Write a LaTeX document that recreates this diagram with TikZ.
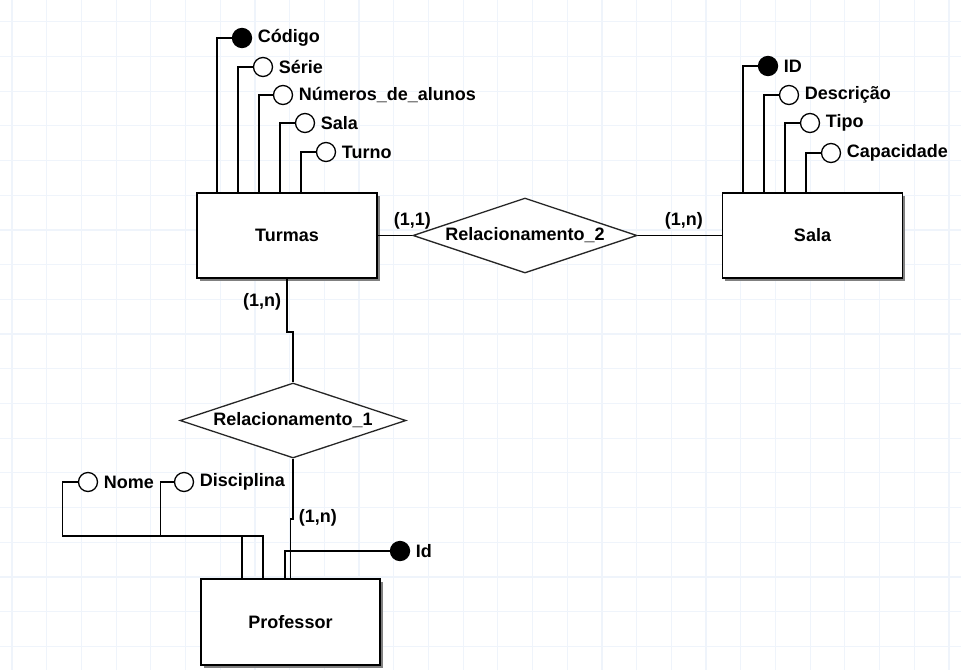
\documentclass[tikz,border=0pt]{standalone}
\usepackage{fontspec}
\setmainfont{Liberation Sans}
\usetikzlibrary{positioning, shapes.geometric, calc, shadows}
\definecolor{gridblue}{RGB}{239,244,251}

\begin{document}
\begin{tikzpicture}[x=1pt, y=-1pt,
  ent/.style={
    rectangle, draw=black, line width=1.6pt, fill=white,
    minimum width=180pt, minimum height=85pt,
    font=\fontsize{18}{21}\selectfont\bfseries,
    drop shadow={shadow xshift=2.5pt, shadow yshift=-2.5pt, fill=black!50, opacity=1}},
  rel/.style={
    diamond, draw=black!85, line width=1.3pt, fill=white, inner sep=0pt,
    shape aspect=3, minimum width=224pt, minimum height=75pt,
    font=\fontsize{18}{21}\selectfont\bfseries},
  attr/.style={
    circle, draw=black, line width=1.3pt, fill=white,
    minimum size=19pt, inner sep=0pt},
  keyattr/.style={attr, fill=black},
  lbl/.style={font=\fontsize{18}{21}\selectfont\bfseries, inner sep=5.5pt},
  card/.style={font=\fontsize{18}{21}\selectfont\bfseries, inner sep=5pt},
  con/.style={line width=1.7pt, black},
  gridln/.style={line width=1.2pt, gridblue}
]
\useasboundingbox (0,0) rectangle (961,670);
\fill[white] (0,0) rectangle (961,670);
% ── Grid ──
\foreach \k in {0,...,27}
  \draw[gridln] ({12+34.7*\k},0) -- ({12+34.7*\k},670);
\foreach \k in {0,...,18}
  \draw[gridln] (0,{21.7+34.7*\k}) -- (961,{21.7+34.7*\k});
% ── Entities ──
\node[ent] (turmas) at (287,235.5)  {Turmas};
\node[ent] (sala)   at (812.5,235.5) {Sala};
\node[ent, minimum width=179pt, minimum height=86pt] (prof) at (290.5,622) {Professor};
% ── Relationships ──
\node[rel] (rel2) at (525,235.5) {Relacionamento\_2};
\node[rel, minimum width=226pt] (rel1) at (293,420.5) {Relacionamento\_1};
% ── Attributes: Turmas ──
\node[keyattr, label={[lbl]right:Código}]           (codigo)  at (242,38)  {};
\node[attr, label={[lbl]right:Série}]               (serie)   at (263,67)  {};
\node[attr, label={[lbl]right:Números\_de\_alunos}] (nalunos) at (283,95)  {};
\node[attr, label={[lbl]right:Sala}]                (tsala)   at (305,123) {};
\node[attr, label={[lbl]right:Turno}]               (turno)   at (326,152) {};
% ── Attributes: Sala ──
\node[keyattr, label={[lbl]right:ID}]       (sid)   at (768,66)  {};
\node[attr, label={[lbl]right:Descrição}]   (sdesc) at (789,95)  {};
\node[attr, label={[lbl]right:Tipo}]        (stipo) at (810,123) {};
\node[attr, label={[lbl]right:Capacidade}]  (scap)  at (831,153) {};
% ── Attributes: Professor ──
\node[attr, label={[lbl]right:Nome}]        (nome)  at (88,482)  {};
\node[attr, label={[lbl]right:Disciplina}]  (disc)  at (184,482) {};
\node[keyattr, label={[lbl]right:Id}]       (pid)   at (400,551) {};
% ── Attribute links ──
\draw[con] (codigo.west)  -| ($(turmas.north west)+(21,0)$);
\draw[con] (serie.west)   -| ($(turmas.north west)+(42,0)$);
\draw[con] (nalunos.west) -| ($(turmas.north west)+(63,0)$);
\draw[con] (tsala.west)   -| ($(turmas.north west)+(84,0)$);
\draw[con] (turno.west)   -| ($(turmas.north west)+(105,0)$);
\draw[con] (sid.west)     -| ($(sala.north west)+(21,0)$);
\draw[con] (sdesc.west)   -| ($(sala.north west)+(42,0)$);
\draw[con] (stipo.west)   -| ($(sala.north west)+(63,0)$);
\draw[con] (scap.west)    -| ($(sala.north west)+(84,0)$);
\draw[con] (nome.west) -| ++(-15.5,54) -| ($(prof.north west)+(63,0)$);
\draw[con] (disc.west) -| ++(-13.5,54) -| ($(prof.north west)+(42,0)$);
\draw[con] (pid.west)  -| ($(prof.north west)+(85,0)$);
% ── Relationship links ──
\draw[con] (turmas.east) -- node[card, above, pos=1] {(1,1)} (rel2.west);
\draw[con] (rel2.east) -- node[card, above, pos=0.55] {(1,n)} (sala.west);
\draw[con] (turmas.south) -- node[card, left, pos=0.43] {(1,n)} ++(0,53) -| (rel1.north);
\draw[con] (rel1.south) -- node[card, right, pos=0.98] {(1,n)} ++(0,60) -| (prof.north);
\end{tikzpicture}
\end{document}
